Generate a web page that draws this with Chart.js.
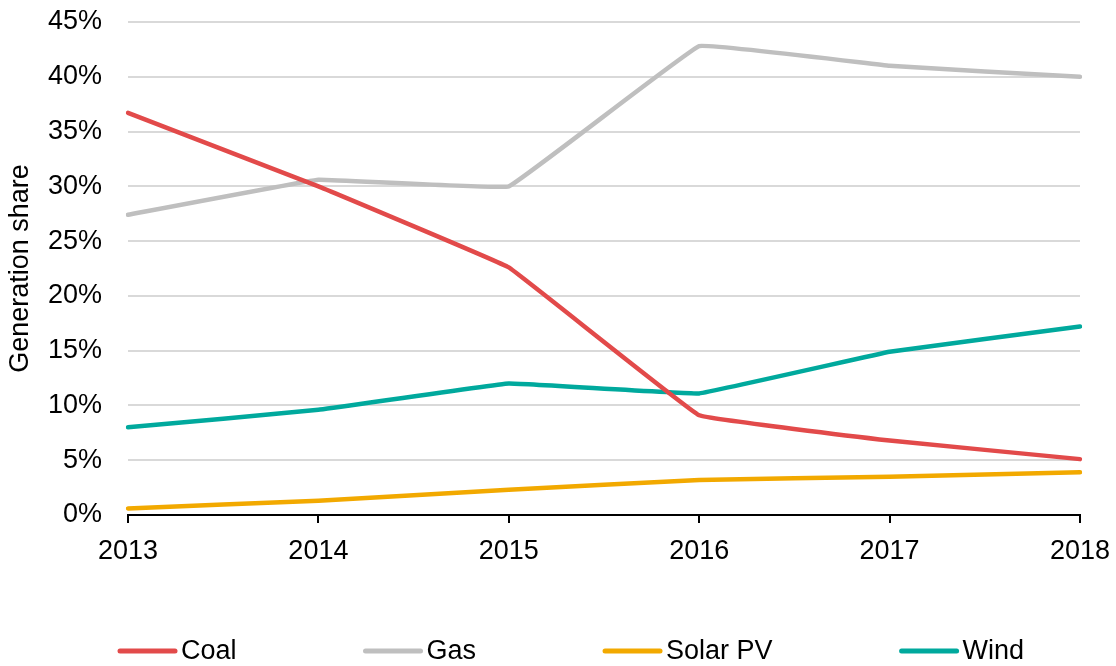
<!DOCTYPE html>
<html lang="en">
<head>
  <meta charset="UTF-8">
  <title>Generation share</title>
  <script src="https://cdn.jsdelivr.net/npm/chart.js"></script>
  <style>
    body { margin: 0; background: #fff; }
    #wrap { width: 1116px; height: 666px; }
  </style>
</head>
<body>
  <div id="wrap"><canvas id="shareChart" width="1116" height="666"></canvas></div>
  <script>
    const years = ['2013', '2014', '2015', '2016', '2017', '2018'];
    const coal = [36.7, 30.0, 22.6, 9.1, 6.8, 5.1];
    const gas = [27.4, 30.6, 30.0, 42.8, 41.0, 40.0];
    const solarPV = [0.6, 1.3, 2.3, 3.2, 3.5, 3.9];
    const wind = [8.0, 9.6, 12.0, 11.1, 14.9, 17.2];

    const font = "Arial, 'Liberation Sans', sans-serif";

    function series(label, data, color) {
      return {
        label: label,
        data: data,
        borderColor: color,
        backgroundColor: color,
        borderWidth: 4.5,
        pointRadius: 0,
        tension: 0.05,
        borderCapStyle: 'round',
        borderJoinStyle: 'round'
      };
    }

    // Excel-style legend row: evenly spaced line swatches under the chart
    const lineLegend = {
      id: 'lineLegend',
      afterDraw(chart) {
        const ctx = chart.ctx;
        const swatch = 59, gap = 4, itemGap = 127;
        const y = 651;
        let x = 118;
        ctx.save();
        ctx.font = '27px ' + font;
        ctx.textBaseline = 'middle';
        ctx.textAlign = 'left';
        chart.data.datasets.forEach(ds => {
          ctx.strokeStyle = ds.borderColor;
          ctx.lineWidth = 5;
          ctx.lineCap = 'round';
          ctx.beginPath();
          ctx.moveTo(x + 2, y);
          ctx.lineTo(x + swatch - 2, y);
          ctx.stroke();
          ctx.fillStyle = '#000';
          ctx.fillText(ds.label, x + swatch + gap, y + 1);
          x += swatch + gap + ctx.measureText(ds.label).width + itemGap;
        });
        ctx.restore();
      }
    };

    new Chart(document.getElementById('shareChart'), {
      type: 'line',
      data: {
        labels: years,
        datasets: [
          series('Coal', coal, '#e24a4a'),
          series('Gas', gas, '#bfbfbf'),
          series('Solar PV', solarPV, '#f2a900'),
          series('Wind', wind, '#00a99d')
        ]
      },
      plugins: [lineLegend],
      options: {
        responsive: false,
        animation: false,
        layout: { padding: { top: 2, left: 4, right: 0, bottom: 60 } },
        plugins: {
          tooltip: { enabled: false },
          legend: { display: false }
        },
        scales: {
          x: {
            offset: false,
            grid: {
              drawOnChartArea: false,
              drawTicks: true,
              tickLength: 8,
              color: '#000',
              lineWidth: 2
            },
            border: { color: '#000', width: 2 },
            ticks: {
              color: '#000',
              font: { family: font, size: 27 },
              maxRotation: 0,
              padding: 12
            },
            afterFit(scale) {
              scale.height = 91;
              scale.paddingLeft = 0;
              scale.paddingRight = 36;
            }
          },
          y: {
            min: 0,
            max: 45,
            ticks: {
              stepSize: 5,
              color: '#000',
              font: { family: font, size: 27 },
              padding: 26,
              callback: v => v + '%'
            },
            grid: { color: '#d9d9d9', lineWidth: 2, drawTicks: false },
            border: { display: false },
            title: {
              display: true,
              text: 'Generation share',
              color: '#000',
              font: { family: font, size: 27 },
              padding: { top: 0, bottom: 2 }
            },
            afterFit(scale) {
              scale.width = 124;
              scale.paddingTop = 22;
              scale.paddingBottom = 16;
            }
          }
        }
      }
    });
  </script>
</body>
</html>
